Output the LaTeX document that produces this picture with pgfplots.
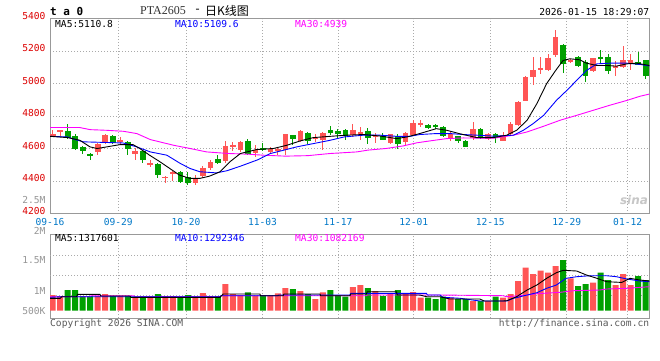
\documentclass[border=0pt]{standalone}
\usepackage{pgfplots}
\pgfplotsset{compat=1.18}
\usepackage{pgfplotstable}
\usepackage{fontspec}
\setmainfont{DejaVu Sans}
\setmonofont{DejaVu Sans Mono}
\newfontfamily\cjk{Noto Sans CJK SC}
\newfontfamily\serifL{Liberation Serif}
\definecolor{cred}{RGB}{255,85,85}
\definecolor{cgreen}{RGB}{0,160,0}
\definecolor{mablue}{RGB}{0,0,255}
\definecolor{mamag}{RGB}{255,0,255}
\definecolor{lblred}{RGB}{221,0,0}
\definecolor{lblblue}{RGB}{0,120,200}
\definecolor{lblgray}{RGB}{150,150,150}
\definecolor{gridc}{RGB}{170,170,170}
\definecolor{framec}{RGB}{153,153,153}
\definecolor{txtgray}{RGB}{90,90,90}
\newcommand\mf{\ttfamily\fontsize{9.6}{10}\selectfont}

% up (red) candles: index, open, high, low, close, volume (K)
\pgfplotstableread{
i O H L C V
0 4680 4716 4678 4690 691
1 4703 4716 4675 4712 647
6 4579 4634 4557 4626 647
7 4636 4692 4626 4685 735
9 4645 4671 4620 4651 647
11 4569 4602 4532 4585 590
13 4497 4532 4487 4511 616
15 4420 4430 4389 4426 647
16 4442 4463 4399 4457 647
19 4385 4438 4375 4411 616
20 4430 4491 4420 4483 779
21 4477 4528 4467 4514 647
23 4522 4645 4512 4614 1175
24 4610 4641 4585 4620 735
25 4590 4645 4579 4641 691
27 4573 4620 4549 4590 647
29 4579 4610 4569 4600 647
30 4585 4610 4559 4600 761
31 4590 4692 4559 4688 999
33 4647 4716 4641 4708 867
35 4661 4688 4641 4667 515
36 4651 4700 4590 4698 805
40 4682 4753 4671 4712 1043
41 4682 4733 4655 4700 1131
43 4671 4698 4635 4677 867
45 4635 4692 4630 4688 761
47 4641 4702 4620 4698 735
48 4682 4774 4675 4759 823
49 4743 4774 4733 4757 572
53 4661 4702 4647 4692 572
56 4667 4763 4655 4722 427
58 4659 4698 4651 4692 427
60 4647 4702 4645 4686 572
61 4688 4763 4682 4749 735
62 4743 4890 4740 4886 1307
63 4892 5049 4890 5043 1892
64 5039 5162 4992 5086 1615
65 5086 5162 5060 5097 1760
66 5086 5183 5080 5156 1672
67 5176 5330 5166 5285 1967
69 5132 5152 5125 5146 1421
72 5074 5160 5070 5156 1232
75 5095 5138 5044 5107 1131
76 5101 5228 5098 5142 1615
77 5121 5183 5084 5142 1131
}\upc

% down (green) candles
\pgfplotstableread{
i O H L C V
2 4706 4749 4661 4665 911
3 4675 4688 4590 4596 911
4 4608 4614 4569 4585 647
5 4567 4573 4532 4559 647
8 4677 4686 4630 4636 647
10 4643 4647 4561 4594 647
12 4585 4593 4508 4528 616
14 4502 4512 4416 4436 735
17 4457 4463 4385 4395 590
18 4426 4457 4375 4385 691
22 4534 4559 4502 4508 647
26 4645 4661 4559 4569 805
28 4604 4634 4585 4590 691
32 4682 4685 4620 4657 955
34 4698 4702 4630 4647 735
37 4712 4737 4682 4696 911
38 4706 4722 4661 4692 691
39 4712 4722 4655 4675 616
42 4706 4729 4630 4665 999
44 4675 4698 4651 4655 647
46 4677 4692 4600 4630 911
50 4747 4753 4718 4729 572
51 4747 4753 4722 4733 515
52 4733 4736 4671 4677 616
54 4675 4678 4635 4645 515
55 4647 4650 4610 4612 515
57 4722 4725 4661 4671 427
59 4687 4698 4634 4671 616
68 5234 5244 5064 5121 2231
70 5166 5172 5101 5107 1087
71 5131 5146 5009 5046 1175
73 5162 5207 5125 5148 1672
74 5166 5183 5056 5080 1351
78 5131 5193 5111 5117 1527
79 5142 5146 5025 5046 1351
}\downc

\pgfplotsset{
  kbase/.style={
    scale only axis, width=599.3pt, xmin=-0.36, xmax=79.48,
    axis line style={framec, line width=0.8pt},
    tick style={draw=none},
    grid style={gridc, line width=0.8pt, dash pattern=on 1pt off 2pt},
  },
  wick/.style={draw=none, mark=none, forget plot,
    error bars/.cd, y dir=both, y explicit, error mark=none,
    error bar style={line width=1pt, draw=#1}},
  body/.style={draw=none, mark=none, forget plot,
    error bars/.cd, y dir=both, y explicit, error mark=none,
    error bar style={line width=5.6pt, draw=#1}},
}

\begin{document}
\begin{tikzpicture}
\useasboundingbox (0pt,0pt) rectangle (660pt,360pt);
\fill[white] (0pt,0pt) rectangle (660pt,360pt);

% ---------------- price panel ----------------
\begin{axis}[kbase, at={(50pt,146.5pt)}, anchor=south west, height=195pt,
  ymin=4200, ymax=5400, ymajorgrids, xmajorgrids,
  ytick={4200,4400,4600,4800,5000,5200,5400},
  yticklabels={4200,4400,4600,4800,5000,5200,5400},
  yticklabel style={font=\mf, text=lblred, inner sep=0pt, anchor=east, xshift=-4.3pt, yshift=2.5pt},
  xtick={-0.36,8.74,17.76,27.95,38.01,48.1,58.3,68.48,76.6},
  xticklabels={09-16,09-29,10-20,11-03,11-17,12-01,12-15,12-29,01-12},
  xticklabel style={font=\mf, text=lblblue, inner sep=0pt, anchor=center, yshift=-8.2pt},
]
\addplot[wick=cred] table[x=i, y expr={(\thisrow{H}+\thisrow{L})/2}, y error expr={(\thisrow{H}-\thisrow{L})/2}] {\upc};
\addplot[wick=cgreen] table[x=i, y expr={(\thisrow{H}+\thisrow{L})/2}, y error expr={(\thisrow{H}-\thisrow{L})/2}] {\downc};
\addplot[body=cred] table[x=i, y expr={(\thisrow{O}+\thisrow{C})/2}, y error expr={abs(\thisrow{C}-\thisrow{O})/2}] {\upc};
\addplot[body=cgreen] table[x=i, y expr={(\thisrow{O}+\thisrow{C})/2}, y error expr={abs(\thisrow{C}-\thisrow{O})/2}] {\downc};
% MA30
\addplot[mamag, line width=0.9pt] coordinates {(-0.36,4729) (3.6,4729) (5,4716) (7.2,4712) (9.4,4706) (11.2,4692) (13,4655) (16.1,4620) (18.3,4600) (20.5,4579) (22.3,4573) (23.6,4569) (26,4565) (28,4559) (31,4553) (34,4556) (36.9,4569) (40.5,4579) (42,4590) (44.4,4600) (46.7,4616) (48.5,4635) (50.3,4647) (52.5,4661) (54.7,4665) (58.7,4663) (61.4,4682) (63.2,4702) (65.4,4737) (67.6,4774) (69.8,4804) (72,4835) (74.2,4866) (76.5,4896) (78.2,4921) (79.48,4935)};
% MA10
\addplot[mablue, line width=0.9pt] coordinates {(-0.36,4675) (2,4671) (3,4655) (4.1,4641) (7.2,4637) (9.4,4634) (11.2,4610) (13,4579) (15.2,4559) (17,4508) (18.3,4477) (19.6,4457) (21.8,4450) (23.2,4463) (25,4491) (27.4,4532) (29,4569) (30.8,4590) (32.5,4610) (34.7,4630) (37,4651) (38.8,4671) (41.4,4682) (43.6,4682) (45.8,4675) (47.6,4675) (48.9,4686) (51.1,4692) (52.9,4692) (54.7,4686) (56.5,4682) (58.7,4676) (61.4,4682) (62.7,4712) (64,4753) (65.4,4804) (67.1,4896) (68.5,4958) (69.8,5019) (71.1,5080) (72.5,5121) (74.2,5125) (76.5,5125) (78.3,5117) (79.48,5108)};
% MA5
\addplot[black, line width=0.9pt] coordinates {(-0.36,4675) (2,4667) (3.6,4651) (4.97,4610) (5.9,4600) (7.2,4610) (9,4624) (10.7,4624) (11.6,4600) (12.9,4559) (14.3,4518) (15.6,4477) (16.9,4436) (18.3,4416) (19.6,4416) (20.9,4430) (22.3,4457) (23.6,4518) (25,4569) (27.2,4594) (29.4,4600) (31.2,4620) (33,4647) (34.7,4667) (37,4675) (39.2,4682) (41.4,4686) (43.6,4677) (45.8,4661) (47.2,4671) (48.9,4692) (51.1,4722) (52.5,4712) (54.3,4690) (56.5,4667) (58.7,4667) (60.5,4682) (61.8,4712) (63.2,4774) (64.5,4876) (65.8,4999) (67,5080) (68,5142) (68.9,5152) (70.2,5146) (71.1,5125) (72.5,5111) (73.8,5111) (75.1,5107) (76.5,5121) (77.8,5125) (79.48,5111)};
\end{axis}

% ---------------- volume panel ----------------
\begin{axis}[kbase, at={(50pt,41.7pt)}, anchor=south west, height=84pt,
  ymin=-334, ymax=3362, ymajorgrids=false, xmajorgrids=false,
  ytick={0,880,2231}, yticklabels={500K,1M,1.5M},
  extra y ticks={660,1571,2451}, extra y tick labels={}, extra y tick style={grid=major},
  yticklabel style={font=\mf, text=lblgray, inner sep=0pt, anchor=east, xshift=-4.3pt},
  xtick=\empty,
  extra x ticks={8.74,17.76,27.95,38.01,48.1,58.3,68.48,76.6}, extra x tick labels={}, extra x tick style={grid=major},
]
\addplot[ybar, bar width=6pt, bar shift=0pt, fill=cred, draw=none, forget plot] table[x=i, y=V] {\upc};
\addplot[ybar, bar width=6pt, bar shift=0pt, fill=cgreen, draw=none, forget plot] table[x=i, y=V] {\downc};
\addplot[mamag, line width=0.9pt] coordinates {(-0.36,616) (5,616) (5.1,660) (10.8,660) (10.9,616) (22.3,616) (22.4,660) (41.8,660) (41.9,691) (51.6,691) (60,660) (60.5,616) (63.2,691) (64.5,748) (67.6,810) (69.4,880) (72.9,911) (73.8,955) (76.5,986) (79.48,1056)};
\addplot[mablue, line width=0.9pt] coordinates {(-0.36,590) (1.2,616) (22.3,616) (22.4,660) (30,660) (30.1,691) (39.6,691) (39.7,761) (49.8,761) (49.9,691) (51.6,691) (52,590) (54.3,546) (56.9,427) (60.5,427) (61.4,546) (63.2,691) (64.5,792) (65.8,986) (67.1,1131) (68.4,1426) (69.8,1496) (71.6,1540) (73.8,1540) (75.1,1496) (76.5,1395) (78.2,1307) (79.48,1276)};
\addplot[black, line width=0.9pt] coordinates {(-0.36,546) (1,546) (1.2,616) (3.2,616) (3.3,722) (6.3,722) (6.4,647) (10.3,647) (10.4,590) (22.3,590) (22.7,735) (27.6,735) (27.7,660) (30.7,660) (30.8,735) (35.6,735) (35.7,660) (39.6,660) (39.7,735) (41.8,735) (41.9,836) (45.8,836) (45.9,691) (48.9,691) (49.8,616) (51.6,616) (52.9,515) (56.9,515) (57.5,427) (60,427) (60.5,440) (61.8,616) (63.2,911) (64.5,1131) (65.8,1426) (67.1,1672) (68,1778) (69.8,1747) (71.1,1571) (72.5,1426) (73.8,1276) (75.8,1245) (76.9,1426) (78.2,1351) (79.48,1307)};
\end{axis}

% ---------------- texts ----------------
\node[anchor=west, inner sep=0pt, font=\ttfamily\bfseries\fontsize{11}{12}\selectfont] at (50pt,348.3pt) {t a 0};
\node[anchor=west, inner sep=0pt, text=black!80, font=\serifL\fontsize{12}{12}\selectfont] at (140pt,349.5pt) {PTA2605};
\node[anchor=center, inner sep=0pt, font=\serifL\fontsize{12}{12}\selectfont] at (197.5pt,349.5pt) {-};
\node[anchor=west, inner sep=0pt, font=\cjk\fontsize{12}{12}\selectfont] at (205pt,349.5pt) {日K线图};
\node[anchor=east, inner sep=0pt, font=\mf] at (649.3pt,348pt) {2026-01-15 18:29:07};

\node[anchor=west, inner sep=0pt, font=\mf] at (55pt,336.3pt) {MA5:5110.8};
\node[anchor=west, inner sep=0pt, font=\mf, text=mablue] at (175pt,336.3pt) {MA10:5109.6};
\node[anchor=west, inner sep=0pt, font=\mf, text=mamag] at (295pt,336.3pt) {MA30:4939};

\node[anchor=west, inner sep=0pt, font=\mf] at (55pt,121.7pt) {MA5:1317601};
\node[anchor=west, inner sep=0pt, font=\mf, text=mablue] at (175pt,121.7pt) {MA10:1292346};
\node[anchor=west, inner sep=0pt, font=\mf, text=mamag] at (295pt,121.7pt) {MA30:1082169};

\node[anchor=east, inner sep=0pt, font=\mf, text=lblgray] at (45.7pt,129pt) {2M};
\node[anchor=east, inner sep=0pt, font=\mf, text=lblgray] at (45.7pt,160pt) {2.5M};

\node[anchor=center, inner sep=0pt, text=black!22, font=\bfseries\itshape\fontsize{12}{12}\selectfont] at (634pt,160pt) {sina};

\node[anchor=west, inner sep=0pt, font=\mf, text=txtgray] at (50pt,36.5pt) {Copyright 2026 SINA.COM};
\node[anchor=east, inner sep=0pt, font=\mf, text=txtgray] at (649.3pt,36.3pt) {http://finance.sina.com.cn};
\end{tikzpicture}
\end{document}
